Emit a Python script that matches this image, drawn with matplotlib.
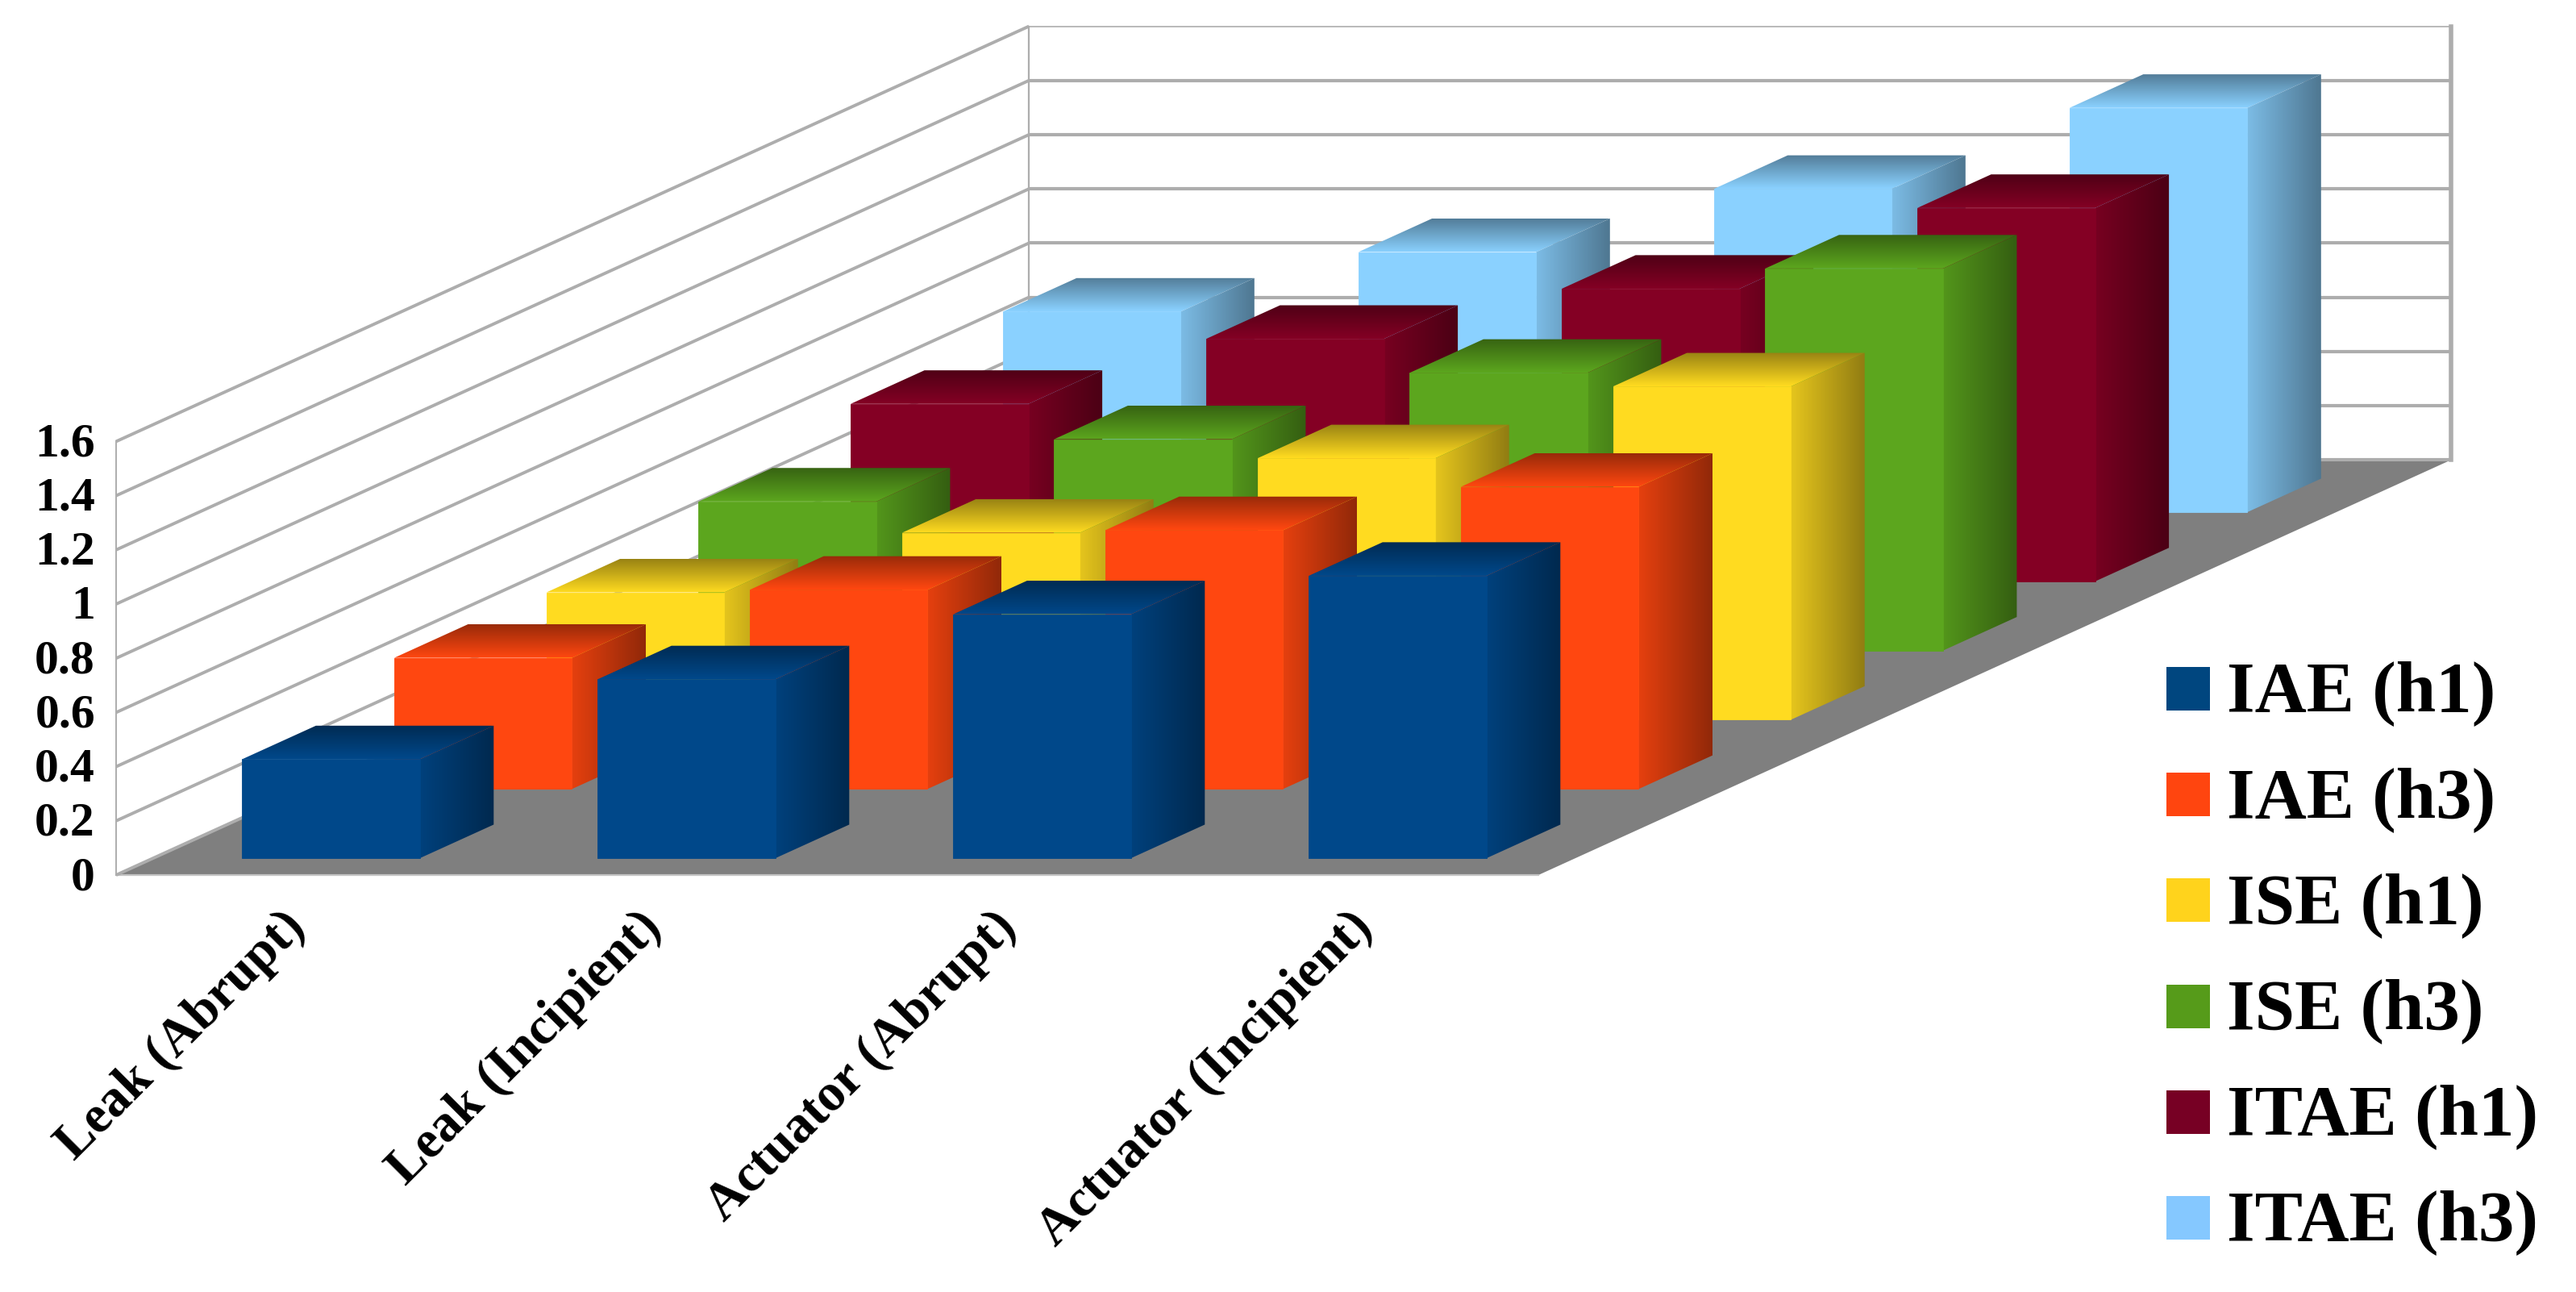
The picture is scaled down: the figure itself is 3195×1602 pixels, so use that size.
"""3D style grouped bars drawn on a flat axes with an oblique projection."""

import matplotlib
matplotlib.use("Agg")
import matplotlib.pyplot as plt
import numpy as np
from matplotlib.colors import to_rgb
from matplotlib.patches import Polygon, Rectangle

categories = ["Leak (Abrupt)", "Leak (Incipient)", "Actuator (Abrupt)", "Actuator (Incipient)"]
series_names = ["IAE (h1)", "IAE (h3)", "ISE (h1)", "ISE (h3)", "ITAE (h1)", "ITAE (h3)"]
colors = ["#00488a", "#ff4710", "#ffdb20", "#5ca61e", "#840024", "#8ad1ff"]
legend_colors = ["#00467f", "#ff450f", "#ffd31c", "#569b1a", "#770024", "#85c8ff"]

iae_h1 = [0.365, 0.66, 0.90, 1.042]
iae_h3 = [0.484, 0.735, 0.955, 1.115]
ise_h1 = [0.47, 0.69, 0.965, 1.23]
ise_h3 = [0.55, 0.78, 1.025, 1.41]
itae_h1 = [0.655, 0.895, 1.08, 1.378]
itae_h3 = [0.74, 0.96, 1.193, 1.492]
all_series = [iae_h1, iae_h3, ise_h1, ise_h3, itae_h1, itae_h3]

y_ticks = [0, 0.2, 0.4, 0.6, 0.8, 1, 1.2, 1.4, 1.6]

# projection, in output pixels
X0, Y0 = 144, 1085
CAT_W = 441
ROW_DX, ROW_DY = 188.7, -85.8
UNIT = 336
CAT_GAP = 0.25
BAR_W = 0.5
ROW_START = 0.244
ROW_D = 0.485

GRID = "#adadad"
FLOOR = "#7f7f7f"
SERIF = "Liberation Serif"


def project(cat, row, val):
    return X0 + cat * CAT_W + row * ROW_DX, Y0 + row * ROW_DY - val * UNIT


def shade(color, k):
    return np.array(to_rgb(color)) * k


def gradient_poly(ax, pts, c_start, c_end, horizontal, zorder):
    # gradient runs left to right or top to bottom across the polygon bounds
    pts = np.array(pts)
    poly = Polygon(pts, closed=True, transform=ax.transData, facecolor="none", edgecolor="none")
    ax.add_patch(poly)
    t = np.linspace(0, 1, 64)[:, None]
    grad = c_start[None, :] * (1 - t) + c_end[None, :] * t
    img = grad[None, :, :] if horizontal else grad[:, None, :]
    im = ax.imshow(img, extent=(pts[:, 0].min(), pts[:, 0].max(), pts[:, 1].max(), pts[:, 1].min()),
                   aspect="auto", interpolation="bilinear", zorder=zorder)
    im.set_clip_path(poly)


def draw_bar(ax, cat, row, val, color, zorder):
    c0, c1 = cat + CAT_GAP, cat + CAT_GAP + BAR_W
    r0, r1 = row + ROW_START, row + ROW_START + ROW_D
    gradient_poly(ax, [project(c0, r0, val), project(c1, r0, val), project(c1, r1, val), project(c0, r1, val)],
                  shade(color, 0.60), shade(color, 1.0), False, zorder)
    gradient_poly(ax, [project(c1, r0, 0), project(c1, r1, 0), project(c1, r1, val), project(c1, r0, val)],
                  shade(color, 0.90), shade(color, 0.57), True, zorder + 0.1)
    # front face last so it covers the seams of the two gradients
    ax.add_patch(Polygon([project(c0, r0, 0), project(c1, r0, 0), project(c1, r0, val), project(c0, r0, val)],
                         closed=True, facecolor=color, edgecolor=color, linewidth=0.3, zorder=zorder + 0.2))


fig = plt.figure(figsize=(15.975, 8.01), dpi=200)
ax = fig.add_axes([0, 0, 1, 1])

n_cat, n_row = len(categories), len(series_names)
top = y_ticks[-1]

# floor and walls
ax.add_patch(Polygon([project(0, 0, 0), project(n_cat, 0, 0), project(n_cat, n_row, 0), project(0, n_row, 0)],
                     closed=True, facecolor=FLOOR, edgecolor="none", zorder=1))
for v in y_ticks:
    xs, ys = zip(project(0, 0, v), project(0, n_row, v), project(n_cat, n_row, v))
    lw = 0.6 if v == top else 1.5
    ax.plot(xs[:2], ys[:2], color=GRID, lw=1.4, zorder=2, solid_capstyle="butt")
    ax.plot(xs[1:], ys[1:], color=GRID, lw=lw, zorder=2, solid_capstyle="butt")
for c, r, lw in [(0, 0, 0.7), (0, n_row, 0.8), (n_cat, n_row, 2)]:
    xs, ys = zip(project(c, r, 0), project(c, r, top))
    ax.plot(xs, ys, color=GRID, lw=lw, zorder=2)
xs, ys = zip(project(0, 0, 0), project(n_cat, 0, 0))
ax.plot(xs, ys, color="#c4c4c4", lw=0.8, zorder=1.5)

# bars, back row first
z = 3
for row in range(n_row - 1, -1, -1):
    for cat in range(n_cat):
        draw_bar(ax, cat, row, all_series[row][cat], colors[row], z)
        z += 1

# tick labels
for v in y_ticks:
    x, y = project(0, 0, v)
    ax.text(x - 26, y + 4, f"{v:g}", ha="right", va="center", family=SERIF,
            weight="bold", fontsize=21.5, color="black", zorder=100)
for i, name in enumerate(categories):
    x, y = project(i + 0.5, 0, 0)
    ax.text(x - 16, y + 34, name, ha="right", va="top", rotation=45, rotation_mode="anchor",
            family=SERIF, weight="bold", fontsize=23.5, color="black", zorder=100)

# legend
for i, name in enumerate(series_names):
    yc = 854 + i * 131.2
    ax.add_patch(Rectangle((2687, yc - 27), 54, 54, facecolor=legend_colors[i], edgecolor="none", zorder=100))
    ax.text(2762, yc + 6, name, ha="left", va="center", family=SERIF, weight="bold",
            fontsize=32, color="black", zorder=100)

ax.set_xlim(0, 3195)
ax.set_ylim(1602, 0)
ax.axis("off")
fig.savefig("out.png", dpi=200, facecolor="white")
plt.close(fig)
